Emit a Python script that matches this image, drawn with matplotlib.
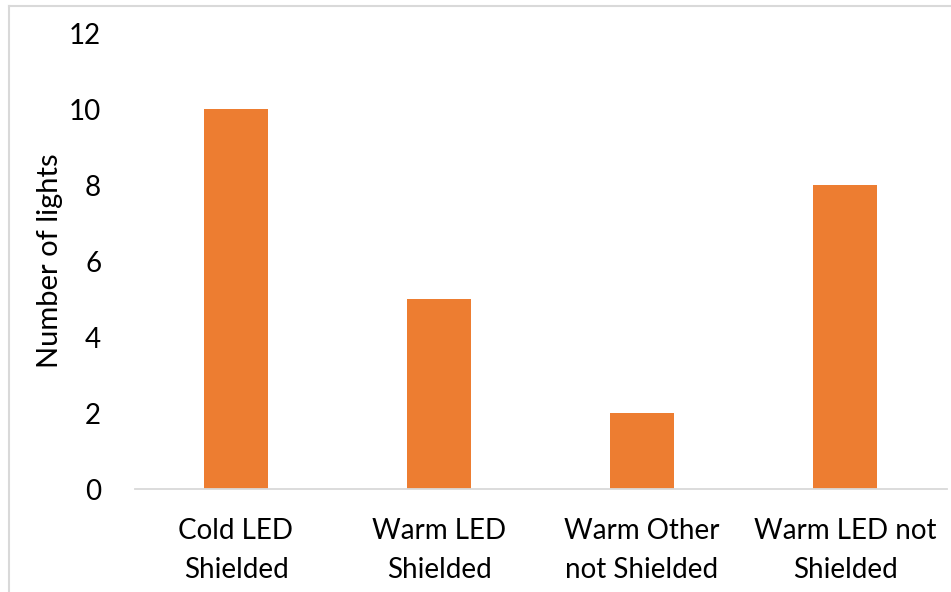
import matplotlib
matplotlib.use("Agg")
import matplotlib.pyplot as plt
from matplotlib.lines import Line2D

categories = ["Cold LED\nShielded", "Warm LED\nShielded", "Warm Other\nnot Shielded", "Warm LED not\nShielded"]
counts = [10, 5, 2, 8]
yticks = [0, 2, 4, 6, 8, 10, 12]

plt.rcParams['font.family'] = ['Lato', 'DejaVu Sans']

W, H = 951, 592
fig = plt.figure(figsize=(W / 100, H / 100), dpi=100)
ax = fig.add_axes([134.5 / W, (H - 489) / H, (946.5 - 134.5) / W, (489 - 33) / H])

x = range(len(categories))
ax.bar(x, counts, width=0.315, color="#ED7D31", zorder=2)
ax.set_xlim(-0.5, len(categories) - 0.5)
ax.set_ylim(0, 12)
ax.set_yticks(yticks)
ax.set_xticks(list(x))
ax.set_xticklabels(categories, fontsize=20, linespacing=1.6)
ax.tick_params(axis="y", labelsize=20, length=0, pad=24)
ax.tick_params(axis="x", length=0, pad=21)
ax.set_ylabel("Number of lights", fontsize=21, labelpad=4)

for s in ["top", "right", "left"]:
    ax.spines[s].set_visible(False)
ax.spines["bottom"].set_color("#d9d9d9")
ax.spines["bottom"].set_linewidth(1.3)

# chart area frame
fig.add_artist(Line2D([9 / W, 9 / W], [0, 1 - 6 / H], color="#d9d9d9", lw=1.5, transform=fig.transFigure))
fig.add_artist(Line2D([9 / W, 1], [1 - 6 / H, 1 - 6 / H], color="#d9d9d9", lw=1.5, transform=fig.transFigure))

fig.savefig("out.png", dpi=100)
